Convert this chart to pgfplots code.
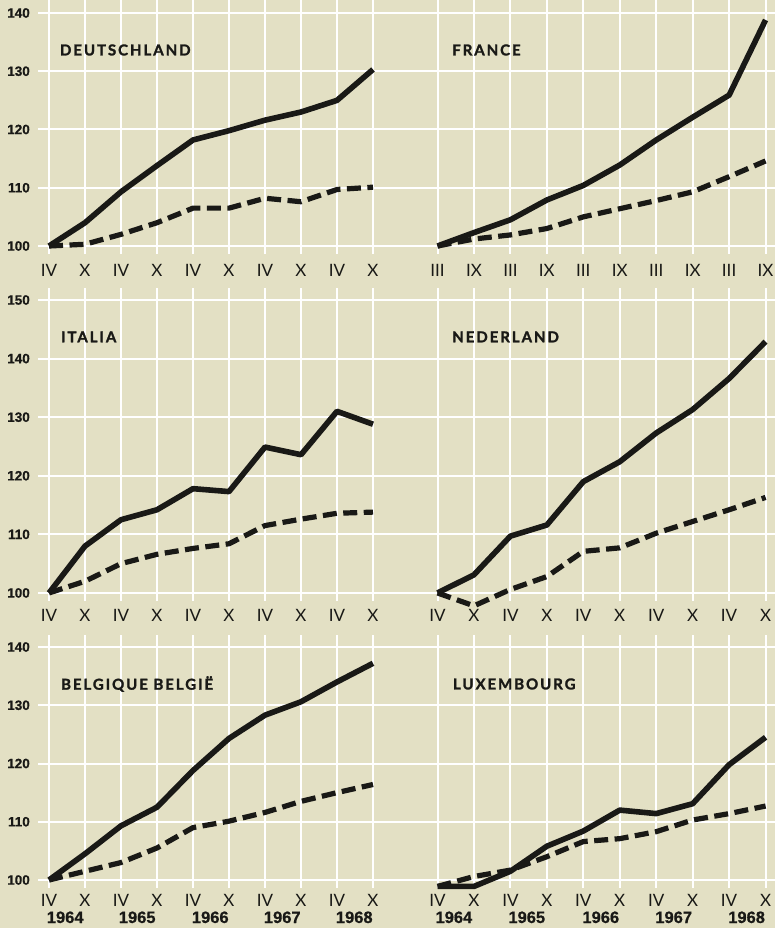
\documentclass[border=0pt]{standalone}
\usepackage{fontspec}
\usepackage{pgfplots}
\pgfplotsset{compat=1.18}
\usepackage{pgfplotstable}
\setmainfont{Lato}
\newfontfamily\numfont{Liberation Sans}[FakeBold=0.6]
\newfontfamily\titlefont{Lato}[LetterSpace=13, FakeBold=1.6]
\definecolor{bg}{RGB}{227,224,196}
\definecolor{ink}{RGB}{25,25,22}

\pgfplotstableread{
x s d
0 100 100
1 104 100.3
2 109.3 102
3 113.8 104
4 118.2 106.5
5 119.8 106.5
6 121.6 108.2
7 123 107.6
8 125 109.7
9 130.3 110.1
}\deu
\pgfplotstableread{
x s d
0 100 100
1 102.3 101.2
2 104.5 101.9
3 107.9 103
4 110.4 105
5 113.9 106.4
6 118.2 107.8
7 122.1 109.3
8 125.9 111.9
9 138.8 114.6
}\fra
\pgfplotstableread{
x s d
0 100 100
1 108 102
2 112.5 105
3 114.2 106.6
4 117.8 107.6
5 117.3 108.4
6 124.9 111.5
7 123.6 112.6
8 131 113.6
9 128.8 113.8
}\ita
\pgfplotstableread{
x s d
0 100 100
1 103.1 97.8
2 109.7 100.6
3 111.6 102.8
4 119 107.1
5 122.4 107.7
6 127.3 110.2
7 131.3 112.2
8 136.6 114.2
9 142.9 116.3
}\ned
\pgfplotstableread{
x s d
0 100 100
1 104.5 101.5
2 109.3 103
3 112.5 105.5
4 118.8 109
5 124.3 110.1
6 128.3 111.6
7 130.6 113.5
8 134 115
9 137.2 116.4
}\bel
\pgfplotstableread{
x s d
0 98.9 98.9
1 98.9 100.6
2 101.5 101.7
3 105.8 104
4 108.4 106.6
5 112 107.1
6 111.4 108.3
7 113.1 110.3
8 119.8 111.4
9 124.5 112.7
}\lux

\tikzset{
  ttl/.style={anchor=west, inner sep=0pt, text=ink, font=\titlefont\bfseries\fontsize{15}{15}\selectfont},
  yr/.style={anchor=base, inner sep=0pt, text=ink, font=\numfont\bfseries\fontsize{16.5}{16.5}\selectfont},
  solidl/.style={ink, line width=5.6pt, line join=round},
  dashl/.style={ink, line width=5.2pt, line join=round, dash pattern=on 14pt off 6.5pt},
}
\pgfplotsset{
  panel/.style={
    scale only axis,
    axis line style={draw=none},
    major tick length=0pt,
    grid=major,
    major grid style={white, line width=2pt},
    xtick={0,...,9},
    clip=false,
    xticklabel style={font=\fontsize{17}{17}\selectfont, anchor=base, inner sep=0pt, text=ink},
    yticklabel style={font=\numfont\bfseries\fontsize{13.5}{13.5}\selectfont, anchor=east, inner sep=0pt, xshift=-8pt, text=ink},
  },
  leftp/.style={panel, width=368pt, xmin=-0.306, xmax=9.917},
  rightp/.style={panel, width=369pt, xmin=-0.864, xmax=9.259},
  row1/.style={height=254pt, ymin=98.63, ymax=142.23, ytick={100,110,120,130,140},
    xticklabel style={yshift=-23pt}},
  row2/.style={height=313pt, ymin=98.63, ymax=152.05, ytick={100,110,120,130,140,150},
    xticklabel style={yshift=-21pt}},
  row3/.style={height=253pt, ymin=98.63, ymax=142.06, ytick={100,110,120,130,140},
    xticklabel style={yshift=-19pt}},
}

\begin{document}
\begin{tikzpicture}
\fill[bg] (0,0) rectangle (775pt,928pt);
\path[use as bounding box] (0,0) rectangle (775pt,928pt);

% Row 1
\begin{axis}[leftp, row1, at={(38pt,674pt)}, anchor=south west,
  xticklabels={IV,X,IV,X,IV,X,IV,X,IV,X},
  yticklabels={100,110,120,130,140}]
\addplot[solidl] table[x=x,y=s]{\deu};
\addplot[dashl] table[x=x,y=d]{\deu};
\node[ttl] at (axis cs:0.3,133.65) {DEUTSCHLAND};
\end{axis}
\begin{axis}[rightp, row1, at={(406pt,674pt)}, anchor=south west,
  xticklabels={III,IX,III,IX,III,IX,III,IX,III,IX},
  yticklabels={}]
\addplot[solidl] table[x=x,y=s]{\fra};
\addplot[dashl] table[x=x,y=d]{\fra};
\node[ttl] at (axis cs:0.4,133.65) {FRANCE};
\end{axis}

% Row 2
\begin{axis}[leftp, row2, at={(38pt,327pt)}, anchor=south west,
  xticklabels={IV,X,IV,X,IV,X,IV,X,IV,X},
  yticklabels={100,110,120,130,140,150}]
\addplot[solidl] table[x=x,y=s]{\ita};
\addplot[dashl] table[x=x,y=d]{\ita};
\node[ttl] at (axis cs:0.33,143.7) {ITALIA};
\end{axis}
\begin{axis}[rightp, row2, at={(406pt,327pt)}, anchor=south west,
  xticklabels={IV,X,IV,X,IV,X,IV,X,IV,X},
  yticklabels={}]
\addplot[solidl] table[x=x,y=s]{\ned};
\addplot[dashl] table[x=x,y=d]{\ned};
\node[ttl] at (axis cs:0.4,143.7) {NEDERLAND};
\end{axis}

% Row 3
\begin{axis}[leftp, row3, at={(38pt,40pt)}, anchor=south west,
  xticklabels={IV,X,IV,X,IV,X,IV,X,IV,X},
  yticklabels={100,110,120,130,140}]
\addplot[solidl] table[x=x,y=s]{\bel};
\addplot[dashl] table[x=x,y=d]{\bel};
\node[ttl] at (axis cs:0.33,133.65) {BELGIQUE BELGIË};
\node[yr, yshift=-35pt] at (axis cs:0.45,98.63) {1964};
\node[yr, yshift=-35pt] at (axis cs:2.45,98.63) {1965};
\node[yr, yshift=-35pt] at (axis cs:4.48,98.63) {1966};
\node[yr, yshift=-35pt] at (axis cs:6.48,98.63) {1967};
\node[yr, yshift=-35pt] at (axis cs:8.48,98.63) {1968};
\end{axis}
\begin{axis}[rightp, row3, at={(406pt,40pt)}, anchor=south west,
  xticklabels={IV,X,IV,X,IV,X,IV,X,IV,X},
  yticklabels={}]
\addplot[solidl] table[x=x,y=s]{\lux};
\addplot[dashl] table[x=x,y=d]{\lux};
\node[ttl] at (axis cs:0.42,133.65) {LUXEMBOURG};
\node[yr, yshift=-35pt] at (axis cs:0.45,98.63) {1964};
\node[yr, yshift=-35pt] at (axis cs:2.45,98.63) {1965};
\node[yr, yshift=-35pt] at (axis cs:4.48,98.63) {1966};
\node[yr, yshift=-35pt] at (axis cs:6.48,98.63) {1967};
\node[yr, yshift=-35pt] at (axis cs:8.48,98.63) {1968};
\end{axis}
\end{tikzpicture}
\end{document}
